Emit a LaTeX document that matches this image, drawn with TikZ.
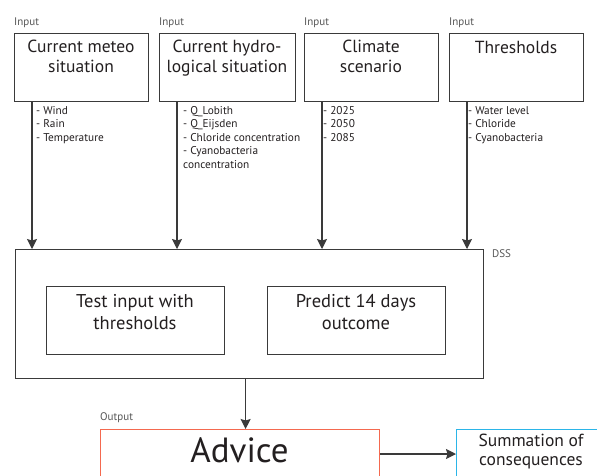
\documentclass[tikz,border=0pt]{standalone}
\usepackage{fontspec}
\setmainfont{PT Sans}
\usetikzlibrary{arrows.meta}
\definecolor{linec}{HTML}{3A3A3A}
\definecolor{labc}{HTML}{555555}
\definecolor{txtc}{HTML}{231F20}
\definecolor{advc}{HTML}{F4694F}
\definecolor{sumc}{HTML}{2BB5E8}
\tikzset{
  box/.style={draw=linec, line width=1.2pt, inner sep=0pt, anchor=north west},
  inbox/.style={box, minimum width=134pt, minimum height=68pt},
  title/.style={anchor=base, align=center, inner sep=0pt, font={\fontsize{17.5}{19.5}\selectfont}, text=txtc},
  subtitle/.style={anchor=base, align=center, inner sep=0pt, font={\fontsize{18.5}{22}\selectfont}, text=txtc},
  tag/.style={anchor=west, inner sep=0pt, font={\fontsize{11}{12}\selectfont}, text=labc},
  list/.style={anchor=base west, align=left, inner sep=0pt, font={\fontsize{11.3}{13.5}\selectfont}, text=txtc},
  arr/.style={draw=linec, line width=1.2pt, -{Stealth[length=10pt,width=10pt,inset=1.5pt]}},
}
\begin{document}
\begin{tikzpicture}[x=1pt,y=-1pt]
\useasboundingbox (0,0) rectangle (597,475);
\clip (0,0) rectangle (597,475);
% input boxes
\node[inbox] (b1) at (14,33) {};
\node[inbox, minimum width=136pt] (b2) at (159,33) {};
\node[inbox] (b3) at (304,33) {};
\node[inbox] (b4) at (449,33) {};
\node[tag] (t1) at (14,23) {Input};
\node[tag] (t2) at (159,23) {Input};
\node[tag] (t3) at (304,23) {Input};
\node[tag] (t4) at (449,23) {Input};
\node[title] (h1) at (81,72) {Current meteo\\situation};
\node[title] (h2) at (227,72) {Current hydro-\\logical situation};
\node[title] (h3) at (371,72) {Climate\\scenario};
\node[title] (h4) at (516,53) {Thresholds};
% lists
\node[list] (l1) at (36,141) {- Wind\\- Rain\\- Temperature};
\node[list] (l2) at (183,168) {- Q\_Lobith\\- Q\_Eijsden\\- Chloride concentration\\- Cyanobacteria\\concentration};
\node[list] (l3) at (323,141) {- 2025\\- 2050\\- 2085};
\node[list] (l4) at (468,141) {- Water level\\- Chloride\\- Cyanobacteria};
% DSS
\node[box, minimum width=468pt, minimum height=129pt] (dss) at (15,249) {};
\node[tag] (tdss) at (492,254) {DSS};
\node[box, minimum width=178pt, minimum height=68pt] (test) at (46,286) {};
\node[subtitle] (ttest) at (135,329) {Test input with\\thresholds};
\node[box, minimum width=178pt, minimum height=68pt] (pred) at (267,286) {};
\node[subtitle] (tpred) at (356,329) {Predict 14 days\\outcome};
% connectors
\foreach \b in {b1,b2,b3,b4}{
  \draw[arr] ([xshift=18pt]\b.south west) -- ([xshift=18pt]\b.south west |- dss.north);
}
% output
\node[box, draw=advc, minimum width=279pt, minimum height=70pt] (adv) at (100,429) {};
\node[tag] (tout) at (100,418) {Output};
\node[anchor=base, inner sep=0pt, font={\fontsize{35}{38}\selectfont}, text=txtc] (tadv) at (239.5,462) {Advice};
\node[box, draw=sumc, minimum width=170pt, minimum height=70pt] (sum) at (456,429) {};
\node[anchor=base, align=center, inner sep=0pt, font={\fontsize{17.5}{19}\selectfont}, text=txtc] (tsum) at (531,465) {Summation of\\consequences};
\draw[arr] ([xshift=-4pt]dss.south) -- ([xshift=-4pt]dss.south |- adv.north);
\draw[arr] (adv.east |- 0,454) -- (sum.west |- 0,454);
\end{tikzpicture}
\end{document}
